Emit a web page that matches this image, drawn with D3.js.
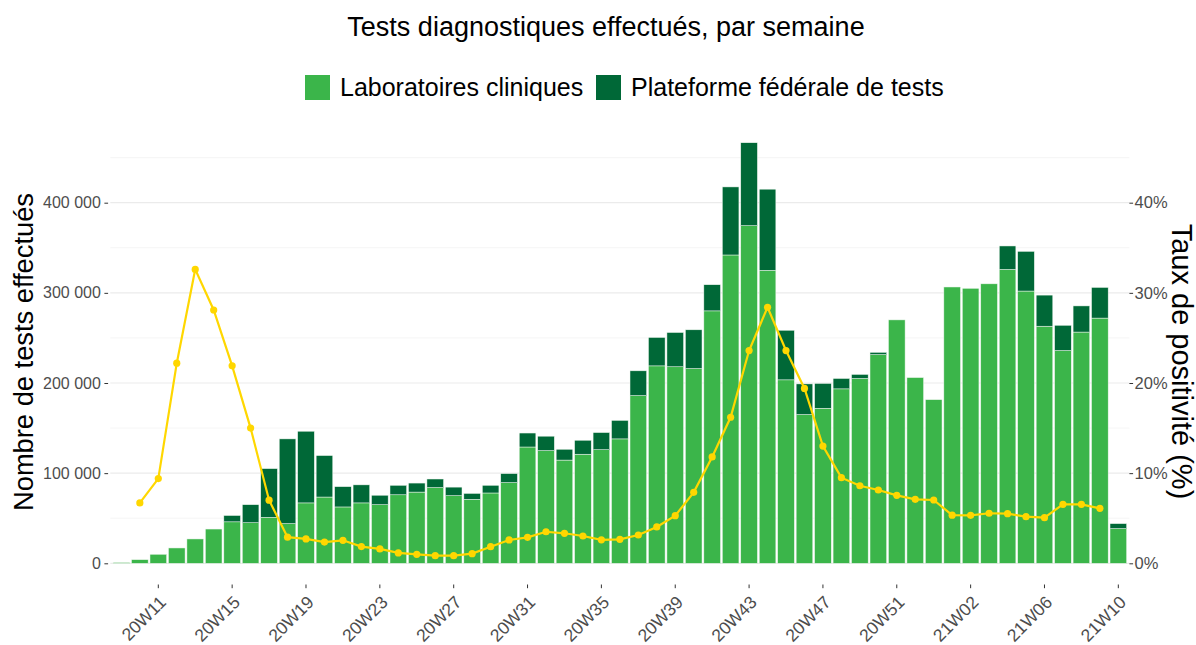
<!DOCTYPE html>
<html>
<head>
<meta charset="utf-8">
<script src="https://cdn.jsdelivr.net/npm/d3@7"></script>
<style>
  html, body { margin: 0; padding: 0; background: #fff; }
  svg { display: block; font-family: "Liberation Sans", Arial, sans-serif; }
</style>
</head>
<body>
<svg id="chart" width="1196" height="645"></svg>
<script>
// ---- data ----
const weeks = ["20W09","20W10","20W11","20W12","20W13","20W14","20W15","20W16","20W17","20W18",
  "20W19","20W20","20W21","20W22","20W23","20W24","20W25","20W26","20W27","20W28",
  "20W29","20W30","20W31","20W32","20W33","20W34","20W35","20W36","20W37","20W38",
  "20W39","20W40","20W41","20W42","20W43","20W44","20W45","20W46","20W47","20W48",
  "20W49","20W50","20W51","20W52","20W53","21W01","21W02","21W03","21W04","21W05",
  "21W06","21W07","21W08","21W09","21W10"];
const labTests = [800,4000,10000,17000,27000,38000,46000,45000,51000,44000,
  67000,73500,62500,67000,65000,76000,79000,84000,75000,71000,
  78000,89500,129000,125000,114500,121000,126000,138000,186000,219000,
  218000,216000,280000,342000,374500,325000,203500,165000,172000,193500,
  205000,231500,270000,206000,181500,306500,305000,310000,326000,302000,
  263000,236000,256500,272000,38500];
const fedTests = [0,0,0,0,0,0,7000,20000,54000,94000,
  79500,46000,22500,20000,10500,10500,10000,9500,9500,6500,
  8500,10000,15500,16000,12000,15500,19000,20500,27500,31500,
  38000,43000,29000,75500,92000,90000,55000,34000,27500,11500,
  4500,2500,0,0,0,0,0,0,26000,44000,
  34500,28000,29000,34000,5500];
const positivity = [null,6.7,9.4,22.2,32.6,28.1,21.9,15.0,7.0,2.9,
  2.7,2.35,2.55,1.85,1.6,1.15,1.0,0.85,0.85,1.07,
  1.84,2.59,2.88,3.5,3.33,3.03,2.6,2.66,3.14,4.03,
  5.28,7.87,11.8,16.2,23.6,28.4,23.6,19.4,13.0,9.5,
  8.6,8.13,7.54,7.1,7.02,5.34,5.32,5.55,5.51,5.17,
  5.06,6.54,6.54,6.1,null];
const xTickLabels = ["20W11","20W15","20W19","20W23","20W27","20W31","20W35","20W39",
  "20W43","20W47","20W51","21W02","21W06","21W10"];
const yTicks = [0,100000,200000,300000,400000];
const yMinorTicks = [50000,150000,250000,350000,450000];
const pctTicks = [0,10,20,30,40];
const seriesNames = ["Laboratoires cliniques","Plateforme fédérale de tests"];

// ---- styles ----
const colLab = "#3BB54A", colFed = "#006837", colLine = "#FFD700";
const axisGrey = "#4D4D4D";
const FONT = "Liberation Sans, Arial, sans-serif";

const svg = d3.select("#chart");
const left = 110.3, right = 1129.4, zero = 563.3, top40 = 202.7;

const x = d3.scaleBand().domain(weeks).range([left, right]).paddingInner(0.1).paddingOuter(0.15);
const y = d3.scaleLinear().domain([0, 400000]).range([zero, top40]);
const yp = d3.scaleLinear().domain([0, 40]).range([zero, top40]);

// gridlines
svg.append("g").selectAll("line").data(yMinorTicks).join("line")
  .attr("x1", left).attr("x2", right).attr("y1", d => y(d)).attr("y2", d => y(d))
  .attr("stroke", "#F3F3F3").attr("stroke-width", 0.8);
svg.append("g").selectAll("line").data(yTicks).join("line")
  .attr("x1", left).attr("x2", right).attr("y1", d => y(d)).attr("y2", d => y(d))
  .attr("stroke", "#EBEBEB").attr("stroke-width", 1.2);

// bars
const data = weeks.map((w, i) => ({ week: w, lab: labTests[i], fed: fedTests[i], pos: positivity[i] }));
const stack = d3.stack().keys(["lab", "fed"])(data);
const colors = [colLab, colFed];
svg.append("g").selectAll("g").data(stack).join("g")
  .attr("fill", (d, i) => colors[i])
  .selectAll("rect").data(d => d).join("rect")
  .attr("x", d => x(d.data.week))
  .attr("width", x.bandwidth())
  .attr("y", d => y(d[1]))
  .attr("height", d => Math.max(0, y(d[0]) - y(d[1])))
  .attr("stroke", "#EEF5EE").attr("stroke-width", 0.5);

// positivity line
const lineData = data.filter(d => d.pos !== null);
svg.append("path").datum(lineData)
  .attr("fill", "none").attr("stroke", colLine).attr("stroke-width", 2.2)
  .attr("d", d3.line().x(d => x(d.week) + x.bandwidth() / 2).y(d => yp(d.pos)));
svg.append("g").selectAll("circle").data(lineData).join("circle")
  .attr("cx", d => x(d.week) + x.bandwidth() / 2).attr("cy", d => yp(d.pos))
  .attr("r", 3.6).attr("fill", colLine);

// left axis
const fmt = d => d3.format(",")(d).replace(/,/g, " ");
const yAxis = d3.axisLeft(y).tickValues(yTicks).tickFormat(fmt).tickSize(3.7).tickPadding(3.5);
const gy = svg.append("g").attr("transform", `translate(${left - 2.2},0)`).call(yAxis);
gy.select(".domain").remove();
gy.selectAll("line").attr("stroke", "#333").attr("stroke-width", 1);
gy.selectAll("text").attr("fill", axisGrey).style("font-size", "16px").style("font-family", FONT);

// right axis
const pAxis = d3.axisRight(yp).tickValues(pctTicks).tickFormat(d => d + "%").tickSize(3.7).tickPadding(1.5);
const gp = svg.append("g").attr("transform", `translate(${right},0)`).call(pAxis);
gp.select(".domain").remove();
gp.selectAll("line").attr("stroke", "#333").attr("stroke-width", 1);
gp.selectAll("text").attr("fill", axisGrey).style("font-size", "16.5px").style("font-family", FONT);

// bottom axis
const xAxis = d3.axisBottom(x).tickValues(xTickLabels).tickSize(3.7).tickPadding(2);
const gx = svg.append("g").attr("transform", `translate(0,584.5)`).call(xAxis);
gx.select(".domain").remove();
gx.selectAll(".tick line").attr("stroke", "#333").attr("stroke-width", 1);
gx.selectAll("text")
  .attr("fill", axisGrey).style("font-size", "17.5px").style("font-family", FONT)
  .attr("text-anchor", "end").attr("x", 0).attr("y", 0).attr("dy", "0.72em")
  .attr("transform", "translate(0,10) rotate(-45)");

// axis titles
svg.append("text").attr("transform", "translate(33,352) rotate(-90)")
  .attr("text-anchor", "middle").style("font-size", "27px").attr("fill", "#000")
  .attr("textLength", 318).attr("lengthAdjust", "spacingAndGlyphs")
  .text("Nombre de tests effectués");
svg.append("text").attr("transform", "translate(1171.5,361.5) rotate(90)")
  .attr("text-anchor", "middle").style("font-size", "29px").attr("fill", "#000")
  .text("Taux de positivité (%)");

// title
svg.append("text").attr("x", 606).attr("y", 36).attr("text-anchor", "middle")
  .style("font-size", "27px").attr("fill", "#000")
  .text("Tests diagnostiques effectués, par semaine");

// legend
const legend = svg.append("g");
const legendX = [305, 596];
seriesNames.forEach((name, i) => {
  legend.append("rect").attr("x", legendX[i]).attr("y", 75).attr("width", 25).attr("height", 25)
    .attr("fill", colors[i]);
  legend.append("text").attr("x", legendX[i] + 35).attr("y", 96)
    .style("font-size", "25px").attr("fill", "#000").text(name);
});
</script>
</body>
</html>
